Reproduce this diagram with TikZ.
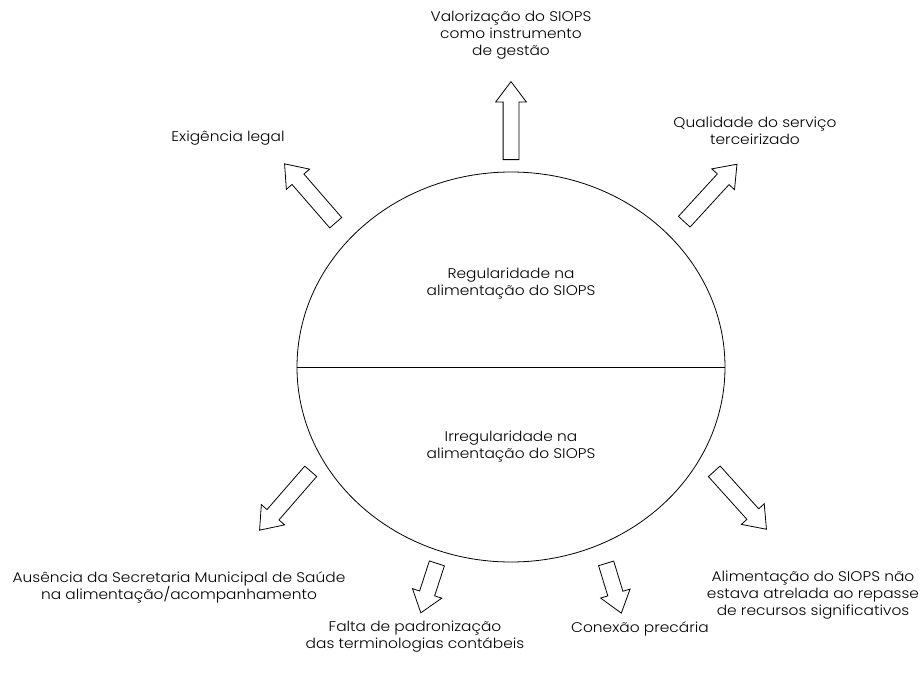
\documentclass[tikz,border=0pt]{standalone}
\usepackage{fontspec}
\setmainfont{Poppins Light}[FakeStretch=1.1]
\usetikzlibrary{shapes.geometric, shapes.arrows, positioning}
\tikzset{
  fluxarrow/.style={
    single arrow, draw, thick, fill=white, anchor=tail,
    minimum height=78pt, inner xsep=0pt, inner ysep=7.5pt,
    single arrow head extend=7.5pt, single arrow tip angle=74
  },
  shortarrow/.style={fluxarrow, minimum height=52pt},
  fluxlabel/.style={
    align=center, font=\fontsize{14}{17}\selectfont, inner sep=0pt
  },
}
\begin{document}
\begin{tikzpicture}[x=1pt, y=-1pt]
  \useasboundingbox (0,0) rectangle (921,685);

  % Central ellipse
  \node[ellipse, draw, thick, minimum width=428pt, minimum height=390pt] (siops) at (511,367) {};
  \draw[thick] (siops.west) -- (siops.east);
  \node[fluxlabel] (regular) at (511,284) {Regularidade na\\alimentação do SIOPS};
  \node[fluxlabel] (irregular) at (511,447) {Irregularidade na\\alimentação do SIOPS};

  % Arrows (regularity)
  \node[fluxarrow, rotate=90] (aValor) at (511,160) {};
  \node[fluxarrow, rotate=131] (aExig) at (336,223) {};
  \node[fluxarrow, rotate=47.5] (aQuali) at (684,222) {};

  % Arrows (irregularity)
  \node[fluxarrow, rotate=229] (aAusen) at (311,471) {};
  \node[fluxarrow, rotate=-48] (aAlim) at (714,471) {};
  \node[shortarrow, rotate=252] (aFalta) at (437,563) {};
  \node[shortarrow, rotate=-73] (aConex) at (606,563) {};

  % Labels
  \node[fluxlabel] (valor) at (511,35) {Valorização do SIOPS\\como instrumento\\de gestão};
  \node[fluxlabel] (exig) at (228,138) {Exigência legal};
  \node[fluxlabel] (quali) at (755,131) {Qualidade do serviço\\terceirizado};
  \node[fluxlabel] (ausen) at (179,587) {Ausência da Secretaria Municipal de Saúde\\na alimentação/acompanhamento};
  \node[fluxlabel] (alim) at (813,595) {Alimentação do SIOPS não\\estava atrelada ao repasse\\de recursos significativos};
  \node[fluxlabel] (falta) at (415,637) {Falta de padronização\\das terminologias contábeis};
  \node[fluxlabel] (conex) at (640,629) {Conexão precária};
\end{tikzpicture}
\end{document}
